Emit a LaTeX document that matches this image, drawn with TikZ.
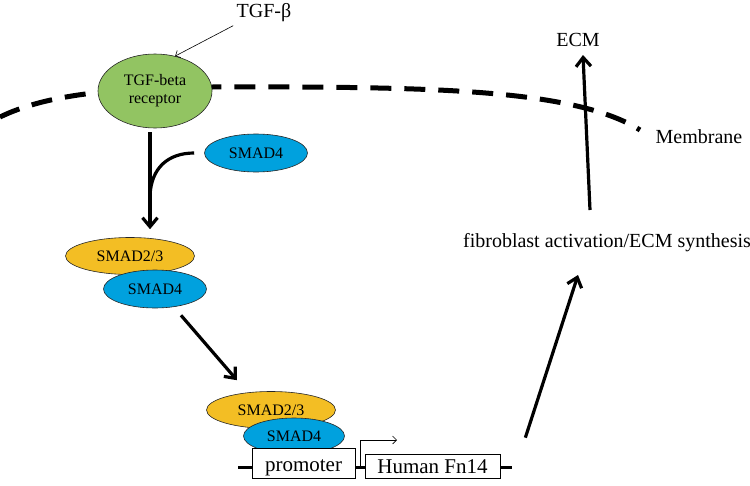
\documentclass[tikz,border=0pt]{standalone}
\usepackage{fontspec}
\setmainfont{Liberation Serif}
\usetikzlibrary{arrows.meta,shapes.geometric}

\definecolor{recgreen}{RGB}{146,196,98}
\definecolor{smadblue}{RGB}{0,161,222}
\definecolor{smadyellow}{RGB}{243,190,36}

\begin{document}
\begin{tikzpicture}[x=1pt,y=-1pt,
    prot/.style={ellipse,draw=black!85,line width=0.6pt,inner sep=0pt,font=\fontsize{16}{18}\selectfont},
    sfour/.style={prot,fill=smadblue,minimum width=103pt,minimum height=38pt},
    stwo/.style={prot,fill=smadyellow,minimum width=129pt,minimum height=37pt},
    gene/.style={rectangle,draw=black,line width=0.7pt,fill=white,inner sep=0pt,font=\fontsize{21}{23}\selectfont},
    lab/.style={font=\fontsize{20}{22}\selectfont},
    bigarrow/.style={line width=3.2pt,-{Straight Barb[length=9pt,width=15pt]}},
    thinarrow/.style={line width=0.6pt,-{Straight Barb[length=4pt,width=8pt]}},
    membrane/.style={line width=5pt,dash pattern=on 21pt off 13pt}]
    \useasboundingbox (0,0) rectangle (750,485);

    % membrane
    \draw[membrane] (0,117) .. controls (60,88) and (150,86) .. (300,87)
        .. controls (450,88) and (580,92) .. (640,130);
    \node[lab] (memb) at (699,137) {Membrane};

    % receptor
    \node[lab] (tgfb) at (264,13) {TGF-β};
    \node[prot,fill=recgreen,minimum width=114pt,minimum height=74pt,align=center] (recep) at (155,91) {TGF-beta\\receptor};
    \draw[thinarrow] (tgfb.south west) to (recep.60);

    \node[sfour] (smadA) at (256,153) {SMAD4};

    \coordinate (join) at (150,196);
    \draw[line width=3.2pt] ([xshift=-10pt]smadA.west) .. controls (168,153) and (151,168) .. (join);

    \node[stwo] (smadB) at (130,256) {SMAD2/3};
    \node[sfour] (smadC) at (155,289) {SMAD4};

    \draw[bigarrow] ([xshift=-5pt,yshift=-4pt]recep.south) to ([xshift=20pt,yshift=8pt]smadB.north);

    \node[stwo] (smadD) at (271,410) {SMAD2/3};
    \node[sfour,minimum width=101pt,minimum height=36pt] (smadE) at (294,436) {SMAD4};

    \draw[bigarrow] ([xshift=26pt,yshift=-7pt]smadC.south) to ([xshift=-34pt,yshift=11pt]smadD.north);

    % gene
    \coordinate (dnaL) at (238,467);
    \coordinate (dnaR) at (512,467);
    \draw[line width=3pt] (dnaL) to (dnaR);
    \node[gene,minimum width=103pt,text height=23pt,text depth=7pt] (prom) at (303.5,463) {promoter};
    \node[gene,minimum width=135pt,text height=19pt,text depth=5pt] (fn) at (432.5,466) {Human Fn14};

    \coordinate (tss) at (360,467);
    \coordinate (tssend) at (397,440);
    \draw[thinarrow] (tss) |- (tssend);

    % activation
    \node[lab] (fibro) at (607,243) {fibroblast activation/ECM synthesis};
    \coordinate (fibtip) at (578,275);
    \draw[bigarrow] ([xshift=25pt,yshift=16pt]fn.north east) to (fibtip);

    \node[lab] (ecm) at (578,40) {ECM};
    \coordinate (ecmbase) at (590,210);
    \coordinate (ecmtip) at (583,55);
    \draw[bigarrow] (ecmbase) to (ecmtip);
\end{tikzpicture}
\end{document}
